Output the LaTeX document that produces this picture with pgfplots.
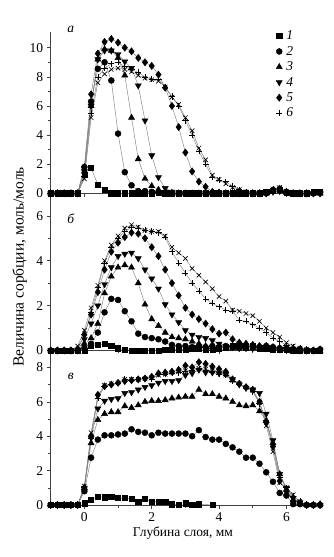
\documentclass[border=0pt]{standalone}
\usepackage{fontspec}
\setmainfont{Liberation Serif}
\usepackage{pgfplots}
\usepackage{pgfplotstable}
\pgfplotsset{compat=1.18}

\pgfplotstableread{
x s1 s2 s3 s4 s5 s6 s7
-1.0 0 0 0 0 0 0 0
-0.8 0 0 0 0 0 0 0
-0.6 0 0 0 0 0 0 0
-0.4 0 0 0 0 0 0 0
-0.2 0 0 0 0 0 0 0
0.0 1.3 1.8 1.5 1.5 1.8 1.2 1.0
0.2 1.75 6.3 6.0 6.0 6.8 5.5 5.2
0.4 0.6 8.55 9.2 9.2 9.6 8.0 7.6
0.6 0.25 9.0 9.9 9.8 10.4 8.6 8.2
0.8 0 7.75 9.8 9.8 10.6 8.9 8.5
1.0 0 4.1 9.3 9.55 10.35 9.0 8.6
1.2 0 1.45 8.1 9.05 10.0 8.7 8.5
1.4 0 0.55 5.2 8.6 9.75 8.5 8.35
1.6 0 0.15 2.35 7.4 9.3 8.3 8.1
1.8 0 0.15 1.0 5.0 9.0 8.0 7.9
2.0 0 0.1 0.5 2.6 8.75 7.85 7.8
2.2 0.05 0.05 0.25 1.1 8.15 7.85 7.7
2.4 0 0 0.1 0.35 7.25 7.3 7.3
2.6 0 0 0.05 0.1 6.0 6.65 6.6
2.8 0 0 0 0.05 4.55 6.0 6.1
3.0 0 0 0 0 2.8 5.0 5.2
3.2 0 0 0 0 1.5 4.0 4.3
3.4 0 0 0 0 0.8 2.9 3.1
3.6 0 0 0 0 0.45 2.0 2.3
3.8 0 0 0 0 0.1 1.1 1.25
4.0 0 0 0 0 0.05 0.9 0.95
4.2 0 0 0 0 0 0.8 0.65
4.4 0 0 0 0 0 0.5 0.4
4.6 0 0 0 0 0 0.25 0.25
4.8 0 0 0 0 0 0.1 0.1
5.0 0 0 0 0 0 0 0
5.2 0 0 0 0 0 0 0
5.4 0.1 0 0 0 0 0.1 0.1
5.6 0.2 0.2 0.1 0.1 0.2 0.3 0.3
5.8 0.25 0.3 0.2 0.15 0.3 0.2 0.4
6.0 0.05 0.1 0.05 0.05 0.1 0.1 0.1
6.2 0 0 0 0 0 0 0
6.4 0 0 0 0 0 0 0
6.6 0 0 0 0 0 0 0
6.8 0.1 0 0 0 0 0 0
7.0 0.1 0.05 0 0 0 0 0
}\dataA

\pgfplotstableread{
x s1 s2 s3 s4 s5 s6 s7
-1.0 0 0 0 0 0 0 0
-0.8 0 0 0 0 0 0 0
-0.6 0 0 0 0 0 0 0
-0.4 0 0 0 0 0 0 0
-0.2 0 0 0 0 0.05 0.1 0.2
0.0 0 0.1 0.3 0.5 0.7 0.7 0.9
0.2 0.2 0.3 0.55 1.2 1.6 1.7 1.9
0.4 0.25 0.8 1.2 2.0 2.6 2.8 2.9
0.6 0.3 1.7 2.55 2.95 3.6 3.9 4.0
0.8 0.2 2.3 3.3 3.7 4.4 4.6 4.7
1.0 0.1 2.25 3.7 4.2 4.8 5.0 5.1
1.2 0.05 1.75 3.8 4.3 5.05 5.3 5.45
1.4 0 1.3 3.7 4.35 5.25 5.5 5.6
1.6 0 0.75 3.0 4.1 5.2 5.45 5.5
1.8 0 0.6 2.05 3.6 5.0 5.35 5.35
2.0 0 0.55 1.4 3.2 4.6 5.3 5.3
2.2 0 0.5 1.1 2.75 4.2 5.25 5.3
2.4 0.05 0.4 0.8 2.05 3.6 5.05 5.1
2.6 0.05 0.25 0.6 1.6 3.0 4.4 4.6
2.8 0.05 0.2 0.55 1.25 2.45 3.9 4.35
3.0 0.05 0.2 0.5 0.9 1.9 3.45 4.1
3.2 0.1 0.15 0.4 0.7 1.6 3.0 3.65
3.4 0.1 0.2 0.3 0.6 1.4 2.65 3.35
3.6 0.05 0.15 0.2 0.55 1.2 2.3 3.05
3.8 0.05 0.2 0.15 0.45 0.95 2.1 2.75
4.0 0.1 0.15 0.1 0.3 0.75 1.95 2.4
4.2 0.15 0.2 0.1 0.2 0.8 1.8 2.2
4.4 0.2 0.15 0.1 0.15 0.5 1.75 1.8
4.6 0.2 0.2 0.1 0.1 0.35 1.35 1.75
4.8 0.15 0.15 0.1 0.1 0.3 1.3 1.65
5.0 0.2 0.2 0.1 0.1 0.25 1.15 1.55
5.2 0.1 0.15 0.1 0.1 0.2 1.0 1.3
5.4 0.1 0.2 0.1 0.1 0.2 0.8 1.0
5.6 0.05 0.15 0.1 0.1 0.15 0.55 0.8
5.8 0.05 0.1 0.1 0.05 0.1 0.4 0.6
6.0 0.05 0.1 0.05 0.05 0.1 0.25 0.35
6.2 0 0.05 0.05 0 0.05 0.15 0.2
6.4 0 0.05 0 0 0.05 0.1 0.1
6.6 0 0 0 0 0 0.05 0.05
6.8 0 0 0 0 0 0 0
7.0 0 0.05 0 0 0.05 0 0
}\dataB

\pgfplotstableread{
x s1 s2 s3 s4 s5 s6 s7
-1.0 0 0 0 0 0 0 0
-0.8 0 0 0 0 0 0 0
-0.6 0 0 0 0 0 0 0
-0.4 0 0 0 0 0 0 0
-0.2 0 0 0 0 0 0 0
0.0 0.1 0.8 1.0 1.0 1.0 1.0 1.1
0.2 0.3 2.75 3.6 3.9 4.0 3.9 4.2
0.4 0.5 3.8 4.95 5.6 6.4 6.2 6.3
0.6 0.45 4.05 5.3 6.05 6.9 6.9 6.95
0.8 0.48 4.05 5.4 6.15 7.0 7.0 7.05
1.0 0.4 4.1 5.4 6.2 7.1 7.1 7.1
1.2 0.4 4.15 5.75 6.5 7.2 7.3 7.3
1.4 0.35 4.4 5.65 6.55 7.25 7.25 7.3
1.6 0.2 4.25 5.8 6.7 7.3 7.3 7.3
1.8 0.35 4.2 6.0 6.85 7.35 7.4 7.35
2.0 0.2 4.05 6.05 6.95 7.45 7.3 7.4
2.2 0.2 4.2 6.05 7.1 7.65 7.6 7.55
2.4 0.2 4.15 6.1 7.2 7.7 7.6 7.6
2.6 0.05 4.15 6.2 7.2 7.75 7.65 7.7
2.8 0.0 4.15 6.25 7.25 7.85 7.7 7.75
3.0 0.1 4.15 6.3 7.55 8.1 7.75 7.8
3.2 0.0 4.0 6.3 7.65 8.0 7.8 7.85
3.4 0.05 4.35 6.7 7.85 8.3 7.9 7.95
3.6 nan 3.95 6.45 7.7 8.2 7.85 7.9
3.8 0.0 3.8 6.45 7.7 8.05 7.7 7.8
4.0 nan 3.8 6.3 7.65 7.9 7.6 7.7
4.2 nan 3.55 6.2 7.6 7.75 7.55 7.55
4.4 nan 3.35 6.0 7.3 7.3 7.2 7.25
4.6 nan 3.1 5.8 7.0 7.05 7.0 7.05
4.8 nan 2.75 5.75 6.8 6.85 6.8 6.85
5.0 nan 2.75 5.8 6.7 6.7 6.6 6.65
5.2 nan 2.4 5.45 6.5 6.0 5.9 5.95
5.4 nan 1.9 4.9 5.3 4.8 4.9 4.6
5.6 nan 1.35 3.6 3.75 3.4 3.5 3.1
5.8 nan 0.7 1.8 1.8 1.4 1.6 1.3
6.0 nan 0.55 0.9 1.0 0.8 1.0 1.0
6.2 nan 0.05 0.3 0.4 0.2 0.5 0.6
6.4 nan 0.05 0.1 0.15 0.1 0.2 0.2
6.6 nan 0 0 0 0 0.05 0
6.8 nan 0 0 0 0 0 0
7.0 nan 0 0.05 0 0 0 0
}\dataC

\newcommand{\fs}{\fontsize{13.5}{15}\selectfont}

\pgfplotsset{
  panel/.style={
    anchor=south west,
    scale only axis, width=269.4pt,
    xmin=-1, xmax=7,
    axis x line=bottom, axis y line=left,
    axis line style={-, black!75, line width=0.5pt},
    tick align=outside, major tick length=4pt, minor tick length=2.5pt,
    tick style={black!75, line width=0.5pt},
    xtick={0,2,4,6}, minor xtick={-1,1,3,5,7},
    minor y tick num=1,
    clip=false,
    /pgf/number format/assume math mode=true,
    tick label style={font=\fs},
    every axis plot/.append style={line width=0.45pt, draw=black!50},
  },
  m1/.style={mark=square*, mark size=2.6pt, mark options={black, fill=black, solid}},
  m2/.style={mark=*, mark size=3pt, mark options={black, fill=black, solid}},
  m3/.style={mark=triangle*, mark size=3.5pt, mark options={black, fill=black, solid}},
  m4/.style={mark=triangle*, mark size=3.5pt, mark options={black, fill=black, solid, rotate=180}},
  m5/.style={mark=diamond*, mark size=3.6pt, mark options={black, fill=black, solid}},
  m6/.style={mark=+, mark size=3.1pt, mark options={black, solid, line width=0.65pt}},
  m7/.style={mark=x, mark size=3.1pt, mark options={black, solid, line width=0.65pt}},
}

\begin{document}
\begin{tikzpicture}
\useasboundingbox (-50.7pt,-52pt) rectangle (283.3pt,505pt);

% panel v
\begin{axis}[panel, at={(0pt,0pt)}, height=154pt, ymin=0, ymax=8.95, ytick={0,2,4,6,8}]
\addplot[m1] table[x=x,y=s1]{\dataC};
\addplot[m2] table[x=x,y=s2]{\dataC};
\addplot[m3] table[x=x,y=s3]{\dataC};
\addplot[m4] table[x=x,y=s4]{\dataC};
\addplot[m5] table[x=x,y=s5]{\dataC};
\addplot[m6] table[x=x,y=s6]{\dataC};
\addplot[m7] table[x=x,y=s7]{\dataC};
\end{axis}

% panel b
\begin{axis}[panel, at={(0pt,154.5pt)}, height=157.2pt, ymin=0, ymax=7, ytick={0,2,4,6}, xticklabels={}]
\addplot[m1] table[x=x,y=s1]{\dataB};
\addplot[m2] table[x=x,y=s2]{\dataB};
\addplot[m3] table[x=x,y=s3]{\dataB};
\addplot[m4] table[x=x,y=s4]{\dataB};
\addplot[m5] table[x=x,y=s5]{\dataB};
\addplot[m6] table[x=x,y=s6]{\dataB};
\addplot[m7] table[x=x,y=s7]{\dataB};
\end{axis}

% panel a
\begin{axis}[panel, at={(0pt,311.7pt)}, height=161.6pt, ymin=0, ymax=11.1, ytick={0,2,4,6,8,10}, xticklabels={},
  legend style={draw=none, fill=none, at={(0.825,1.025)}, anchor=north west, font=\fs\itshape, row sep=3pt, column sep=3pt, nodes={inner sep=1pt}},
  legend cell align=left,
  legend image code/.code={\draw[#1] plot coordinates {(0pt,0pt)};}]
\addplot[m1] table[x=x,y=s1]{\dataA};
\addplot[m2] table[x=x,y=s2]{\dataA};
\addplot[m3] table[x=x,y=s3]{\dataA};
\addplot[m4] table[x=x,y=s4]{\dataA};
\addplot[m5] table[x=x,y=s5]{\dataA};
\addplot[m6] table[x=x,y=s6]{\dataA};
\addplot[m7, forget plot] table[x=x,y=s7]{\dataA};
\legend{1,2,3,4,5,6}
\end{axis}

\node[font=\fs\itshape] at (20pt,475.7pt) {а};
\node[font=\fs\itshape] at (20pt,286pt) {б};
\node[font=\fs\itshape] at (20pt,128.3pt) {в};
\node[font=\fontsize{15.5}{17}\selectfont, rotate=90] at (-31pt,238pt) {Величина сорбции, моль/моль};
\node[font=\fs] at (132.3pt,-28pt) {Глубина слоя, мм};
\end{tikzpicture}
\end{document}
